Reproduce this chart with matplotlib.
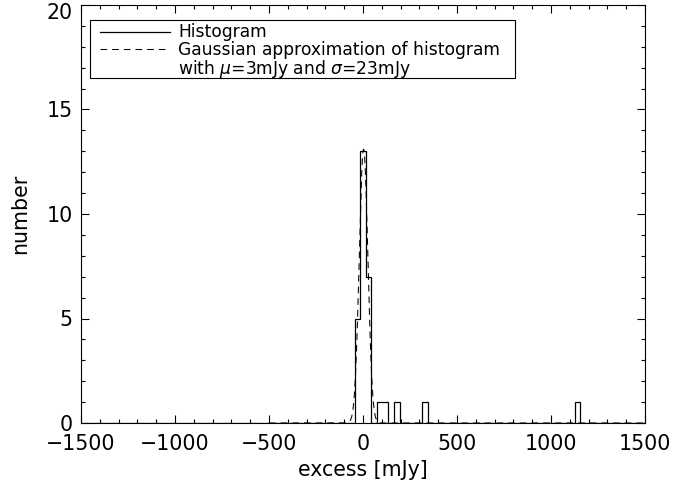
import numpy as np
import matplotlib
matplotlib.use("Agg")
import matplotlib.pyplot as plt
import matplotlib.transforms as mtrans
from matplotlib.lines import Line2D
from matplotlib.patches import Rectangle

# ---- data ----
bin_width = 30
bin_left_edges = [-45, -15, 15, 75, 105, 165, 315, 1125]   # mJy, left edge of each non-empty bin
bin_counts = [5, 13, 7, 1, 1, 1, 1, 1]
gauss_mu = 3.0       # mJy
gauss_sigma = 23.0   # mJy
gauss_amp = 13.1     # peak number
gauss_range = [-500, 1500]
x_ticks = [-1500, -1000, -500, 0, 500, 1000, 1500]
y_ticks = [0, 5, 10, 15, 20]
legend_lines = ['Histogram',
                'Gaussian approximation of histogram',
                r'with $\mu$=3mJy and $\sigma$=23mJy']

plt.rcParams['font.family'] = ['DejaVu Sans']
fig = plt.figure(figsize=(6.73, 4.95), dpi=100)
ax = fig.add_axes([81/673, 1-423/495, (645-81)/673, (423-5)/495])

# histogram as stairs
edges = np.arange(-1485, 1516, bin_width)
counts = np.zeros(len(edges) - 1)
for le, c in zip(bin_left_edges, bin_counts):
    idx = int(round((le - edges[0]) / bin_width))
    counts[idx] = c
ax.stairs(counts, edges, color='black', lw=0.9)

# gaussian approximation
xg = np.linspace(gauss_range[0], gauss_range[1], 4001)
yg = gauss_amp * np.exp(-(xg - gauss_mu) ** 2 / (2 * gauss_sigma ** 2))
ax.plot(xg, yg, color='black', lw=0.75, linestyle=(0, (6.4, 4.8)))

ax.set_xlim(-1500, 1500)
ax.set_ylim(0, 20)
ax.set_xticks(x_ticks)
ax.set_yticks(y_ticks)
ax.set_xticks(np.arange(-1500, 1501, 100), minor=True)
ax.set_yticks(np.arange(0, 21, 1), minor=True)
ax.tick_params(which='both', direction='in', top=True, right=True, width=0.8,
               labelsize=14.8, color='black')
ax.tick_params(which='major', length=6)
ax.tick_params(which='minor', length=3)
ax.tick_params(axis='x', pad=8)
ax.tick_params(axis='y', pad=6)
for s in ax.spines.values():
    s.set_linewidth(0.8)

# shift the top y tick label down so it stays inside the figure
fig.canvas.draw()
top_lab = ax.get_yticklabels()[-1]
top_lab.set_transform(top_lab.get_transform() +
                      mtrans.ScaledTranslation(0, -6/100, fig.dpi_scale_trans))

ax.set_xlabel('excess [mJy]', fontsize=14.8, labelpad=4)
ax.set_ylabel('number', fontsize=14.8, labelpad=12)

# legend drawn manually in figure pixel coordinates
def fx(px):
    return px / 673

def fy(py):
    return 1 - py / 495

fig.add_artist(Rectangle((fx(90), fy(78)), fx(515) - fx(90), fy(20) - fy(78),
                         transform=fig.transFigure, fill=False, lw=0.8, ec='black'))
fig.add_artist(Line2D([fx(100), fx(170)], [fy(32), fy(32)], transform=fig.transFigure,
                      color='black', lw=0.9))
fig.add_artist(Line2D([fx(100), fx(170)], [fy(49), fy(49)], transform=fig.transFigure,
                      color='black', lw=0.75, linestyle=(0, (6.4, 4.8))))
fig.text(fx(178), fy(23), '\n'.join(legend_lines), fontsize=12.3, va='top', ha='left',
         linespacing=0.98)

fig.savefig('out.png', dpi=100)
